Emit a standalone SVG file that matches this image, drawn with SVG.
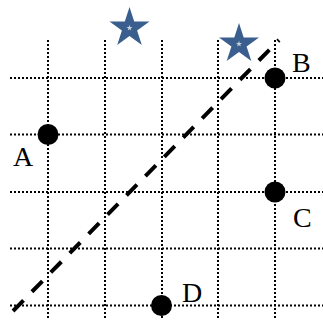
<svg xmlns="http://www.w3.org/2000/svg" width="323" height="320" viewBox="0 0 323 320">
<defs>
<style>
.grid{stroke:#000;stroke-width:2;stroke-dasharray:2 2;fill:none}
.pt{fill:#000}
.lbl{font-family:"Liberation Serif","Times New Roman",serif;font-size:28px;fill:#000}
.star{fill:#3a5f8f}
.inner{fill:#c8d0dc}
</style>
<g id="starshape">
<polygon points="0,-21 4.7,-6.5 20,-6.5 7.6,2.5 12.3,17 0,8 -12.3,17 -7.6,2.5 -20,-6.5 -4.7,-6.5"/>
</g>
</defs>
<g id="grid">
<line class="grid" x1="48" y1="40" x2="48" y2="320"/>
<line class="grid" x1="105" y1="40" x2="105" y2="320"/>
<line class="grid" x1="162" y1="40" x2="162" y2="320"/>
<line class="grid" x1="218" y1="40" x2="218" y2="320"/>
<line class="grid" x1="275" y1="40" x2="275" y2="320"/>
<line class="grid" x1="10" y1="78" x2="323" y2="78"/>
<line class="grid" x1="10" y1="134.5" x2="323" y2="134.5"/>
<line class="grid" x1="10" y1="192" x2="323" y2="192"/>
<line class="grid" x1="10" y1="248.5" x2="323" y2="248.5"/>
<line class="grid" x1="10" y1="305.5" x2="323" y2="305.5"/>
</g>
<g id="connectors">
<line x1="13" y1="311" x2="279" y2="40" stroke="#000" stroke-width="4" stroke-dasharray="15 12"/>
</g>
<g id="star1">
<use href="#starshape" class="star" transform="translate(129.5,28)"/>
<use href="#starshape" class="inner" transform="translate(129.5,28) scale(0.15)"/>
</g>
<g id="star2">
<use href="#starshape" class="star" transform="translate(239,44)"/>
<use href="#starshape" class="inner" transform="translate(239,44) scale(0.15)"/>
</g>
<g id="A"><circle class="pt" cx="48" cy="134.5" r="10.5"/><text class="lbl" x="13" y="166">A</text></g>
<g id="B"><circle class="pt" cx="275" cy="78" r="10.5"/><text class="lbl" x="292" y="72">B</text></g>
<g id="C"><circle class="pt" cx="275" cy="192" r="10.5"/><text class="lbl" x="293" y="227">C</text></g>
<g id="D"><circle class="pt" cx="161.5" cy="305.5" r="10.5"/><text class="lbl" x="182" y="302">D</text></g>
</svg>
